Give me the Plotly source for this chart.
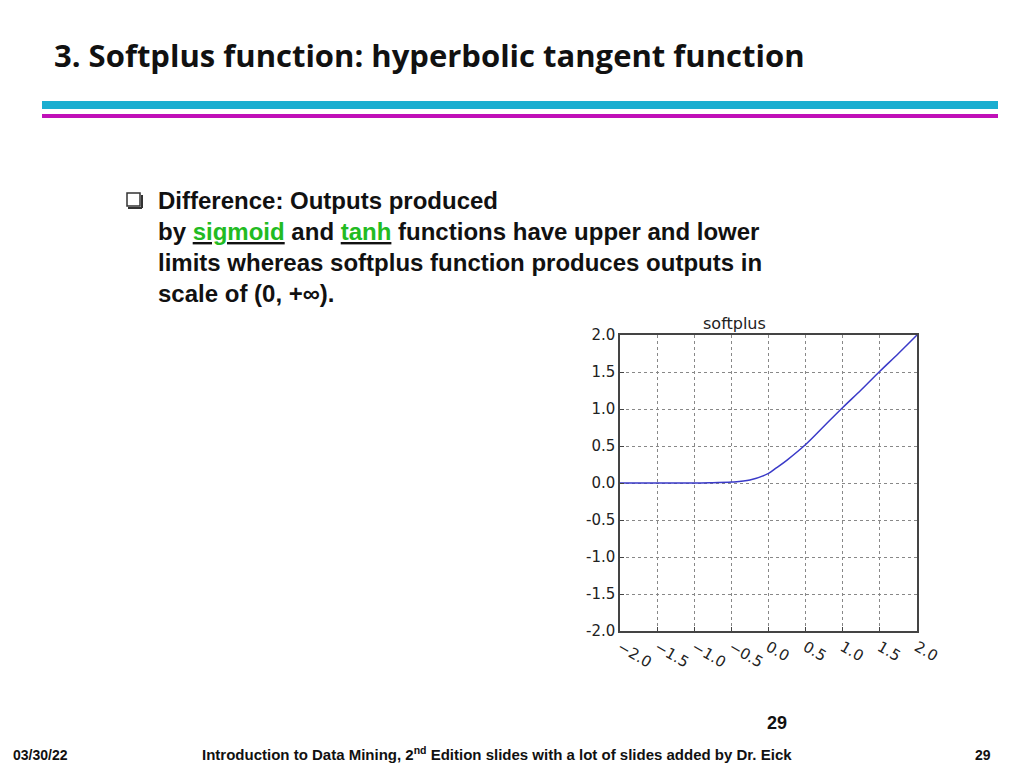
import plotly.graph_objects as go

# Werte
x_vals = [-2.0, -1.5, -1.0, -0.75, -0.5, -0.25, 0.0, 0.1, 0.25, 0.5, 0.75, 1.0, 1.25, 1.5, 1.75, 2.0]
y_vals = [0.0, 0.0, 0.0, 0.005, 0.012, 0.04, 0.13, 0.2, 0.31, 0.52, 0.77, 1.02, 1.26, 1.51, 1.75, 2.0]
tick_vals = [-2.0, -1.5, -1.0, -0.5, 0.0, 0.5, 1.0, 1.5, 2.0]
x_tick_text = ["\u22122.0", "\u22121.5", "\u22121.0", "\u22120.5", "0.0", "0.5", "1.0", "1.5", "2.0"]
y_tick_text = ["-2.0", "-1.5", "-1.0", "-0.5", "0.0", "0.5", "1.0", "1.5", "2.0"]

W, H = 1024, 768
def px(x): return x / W
def py(y): return 1 - y / H

fig = go.Figure()
fig.add_trace(go.Scatter(x=x_vals, y=y_vals, mode="lines", line=dict(color="#3a3ac8", width=1.5, shape="spline"),
                         showlegend=False, hoverinfo="skip"))

axis_common = dict(range=[-2, 2], tickvals=tick_vals, showgrid=True, gridcolor="#888",
                   griddash="dot", gridwidth=1, zeroline=False, showline=True, mirror=True,
                   linecolor="#444", linewidth=1.5, ticks="inside", ticklen=4, tickcolor="#444",
                   tickfont=dict(family="DejaVu Sans", size=15, color="#222"))
fig.update_xaxes(domain=[px(612), px(909)], ticktext=x_tick_text, anchor="y", ticklabelstandoff=0, **axis_common)
fig.update_yaxes(domain=[py(623), py(327)], ticktext=y_tick_text, anchor="x", **axis_common)

shapes = [
    dict(type="rect", xref="paper", yref="paper", x0=px(34), x1=px(990), y0=py(101), y1=py(93),
         fillcolor="#1aaed0", line_width=0),
    dict(type="rect", xref="paper", yref="paper", x0=px(34), x1=px(990), y0=py(110), y1=py(106),
         fillcolor="#c010b8", line_width=0),
    dict(type="rect", xref="paper", yref="paper", x0=px(119), x1=px(132), y0=py(198), y1=py(185),
         fillcolor="white", line=dict(color="#333", width=1.5)),
    dict(type="line", xref="paper", yref="paper", x0=px(134), x1=px(134), y0=py(200), y1=py(187),
         line=dict(color="#333", width=2)),
    dict(type="line", xref="paper", yref="paper", x0=px(120), x1=px(134), y0=py(200), y1=py(200),
         line=dict(color="#333", width=2)),
]

green = "#22bb22"
body = dict(family="Liberation Sans, Arial", size=24, color="#111")
lines = [
    "<b>Difference: Outputs produced</b>",
    f"<b>by <u><span style='color:{green}'>sigmoid</span></u> and <u><span style='color:{green}'>tanh</span></u> functions have upper and lower</b>",
    "<b>limits whereas softplus function produces outputs in</b>",
    "<b>scale of (0, +\u221e).</b>",
]
ann = []
for i, t in enumerate(lines):
    ann.append(dict(x=px(148), y=py(192 + 31.3 * i), xref="paper", yref="paper", text=t, showarrow=False,
                    xanchor="left", yanchor="middle", font=body))
ann += [
    dict(x=px(44), y=py(47), xref="paper", yref="paper", showarrow=False, xanchor="left", yanchor="middle",
         text="<b>3. Softplus function: hyperbolic tangent function</b>",
         font=dict(family="Open Sans", size=31, color="#111")),
    dict(x=px(760), y=py(315), xref="paper", yref="paper", showarrow=False, text="softplus",
         font=dict(family="DejaVu Sans", size=16, color="#222")),
    dict(x=px(781), y=py(727), xref="paper", yref="paper", showarrow=False, text="<b>29</b>",
         font=dict(family="Liberation Sans", size=18, color="#111")),
    dict(x=px(3), y=py(757), xref="paper", yref="paper", showarrow=False, xanchor="left", text="<b>03/30/22</b>",
         font=dict(family="Liberation Sans", size=14, color="#111")),
    dict(x=px(489), y=py(757), xref="paper", yref="paper", showarrow=False,
         text="<b>Introduction to Data Mining, 2<sup>nd</sup> Edition slides with a lot of slides added by Dr. Eick</b>",
         font=dict(family="Liberation Sans", size=15, color="#111")),
    dict(x=px(985), y=py(757), xref="paper", yref="paper", showarrow=False, text="<b>29</b>",
         font=dict(family="Liberation Sans", size=14, color="#111")),
]

fig.update_layout(width=W, height=H, margin=dict(l=0, r=0, t=0, b=0, autoexpand=False), plot_bgcolor="white",
                  paper_bgcolor="white", shapes=shapes, annotations=ann)
fig.write_html("out.html")
